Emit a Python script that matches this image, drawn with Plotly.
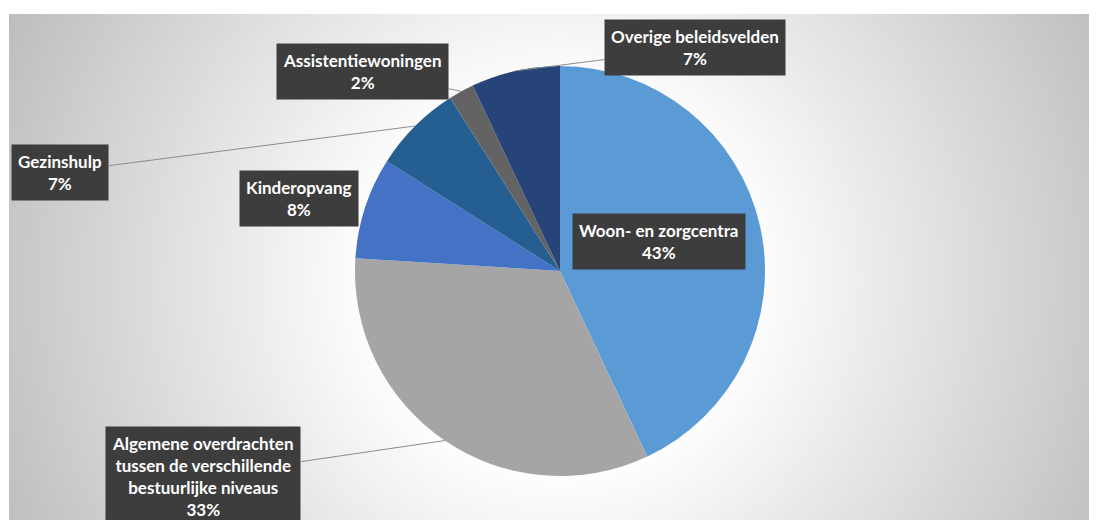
import base64
import math
import plotly.graph_objects as go

# Verdeling per beleidsveld (%), met de klok mee vanaf 12 uur
categories = [
    "Woon- en zorgcentra",
    "Algemene overdrachten<br>tussen de verschillende<br>bestuurlijke niveaus",
    "Kinderopvang",
    "Gezinshulp",
    "Assistentiewoningen",
    "Overige beleidsvelden",
]
shares = [43, 33, 8, 7, 2, 7]
colors = ["#5B9BD5", "#A5A5A5", "#4472C4", "#255E91", "#636363", "#264478"]

W, H = 1097, 520
OFF = 8  # page body margin, positions below are page pixels
cx, cy, r = 560 - OFF, 271 - OFF, 205

# label box centres (page px) and whether a leader line is drawn
box_pos = [(659, 242), (203, 476), (299, 198), (60, 172), (362, 71), (695, 48)]
leader = [False, True, False, True, True, True]

fig = go.Figure()
fig.add_trace(go.Pie(
    labels=categories,
    values=shares,
    marker=dict(colors=colors, line=dict(width=0)),
    sort=False,
    direction="clockwise",
    rotation=0,
    textinfo="none",
    hoverinfo="none",
    showlegend=False,
    domain=dict(x=[(cx - r) / W, (cx + r) / W], y=[1 - (cy + r) / H, 1 - (cy - r) / H]),
))

# leader line anchors: middle of each slice on the rim
total = sum(shares)
cum = 0
for lab, v, (bx, by), ld in zip(categories, shares, box_pos, leader):
    bx, by = bx - OFF, by - OFF
    mid = (cum + v / 2) / total * 2 * math.pi
    cum += v
    tx = cx + r * math.sin(mid)
    ty = cy - r * math.cos(mid)
    text = "<b>%s<br>%d%%</b>" % (lab, round(v / total * 100))
    ann = dict(
        text=text,
        xref="paper", yref="paper",
        font=dict(family="Lato", size=17, color="white"),
        bgcolor="#3D3D3D",
        borderpad=6,
        align="center",
    )
    if ld:
        ann.update(x=tx / W, y=1 - ty / H, ax=bx - tx, ay=by - ty,
                   showarrow=True, arrowhead=0, arrowwidth=1,
                   arrowcolor="#8C8C8C", standoff=0)
    else:
        ann.update(x=bx / W, y=1 - by / H, xanchor="center", yanchor="middle",
                   showarrow=False)
    fig.add_annotation(**ann)

# achtergrond met radiaal verloop
x0, y0 = 9 - OFF, 14 - OFF
bw, bh = W - x0, H - y0
svg = (
    '<svg xmlns="http://www.w3.org/2000/svg" width="%d" height="%d">'
    '<defs><radialGradient id="g" gradientUnits="userSpaceOnUse" cx="%d" cy="%d" r="620">'
    '<stop offset="0" stop-color="#ffffff"/><stop offset="0.3" stop-color="#ffffff"/>'
    '<stop offset="1" stop-color="#bcbcbc"/></radialGradient></defs>'
    '<rect width="%d" height="%d" fill="url(#g)"/></svg>'
    % (bw, bh, cx - x0, cy + 10 - y0, bw, bh)
)
src = "data:image/svg+xml;base64," + base64.b64encode(svg.encode()).decode()
fig.add_layout_image(dict(
    source=src, xref="paper", yref="paper",
    x=x0 / W, y=1 - y0 / H, sizex=bw / W, sizey=bh / H,
    xanchor="left", yanchor="top", sizing="stretch", layer="below",
))

fig.update_layout(
    width=W, height=H,
    margin=dict(l=0, r=0, t=0, b=0),
    paper_bgcolor="white",
    plot_bgcolor="rgba(0,0,0,0)",
)

fig.write_html("out.html")
